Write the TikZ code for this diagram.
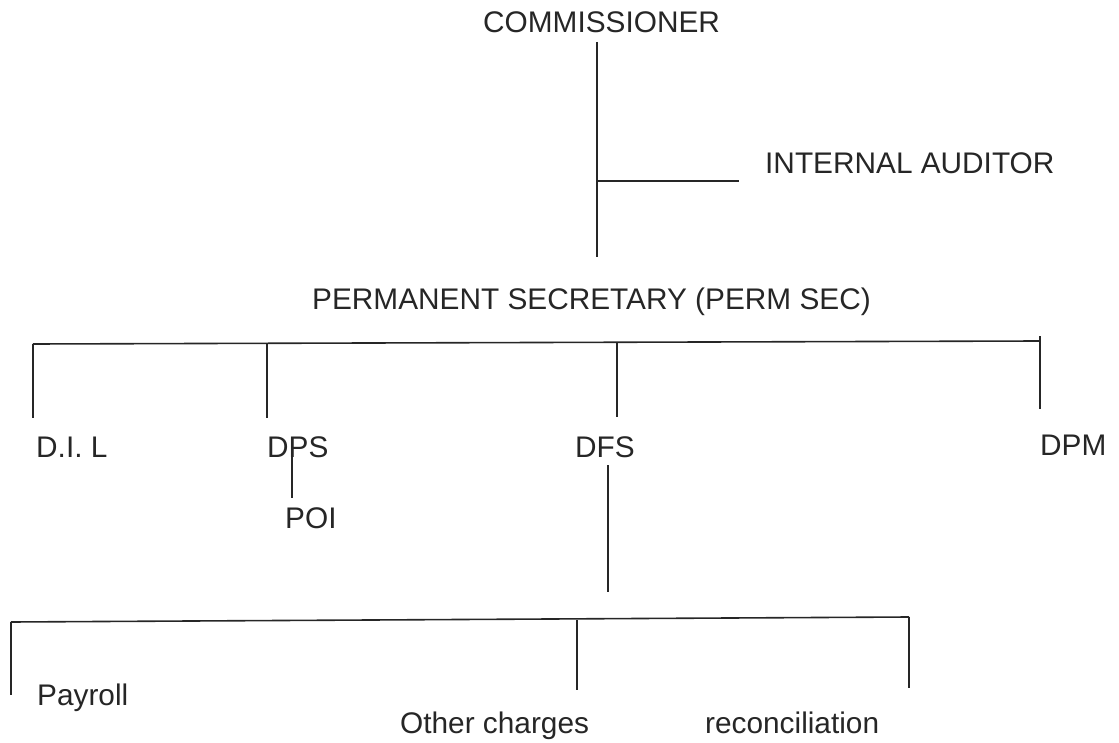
\documentclass[tikz,border=0pt]{standalone}
\usepackage{fontspec}
\setmainfont{Liberation Sans}
\begin{document}
\begin{tikzpicture}[x=1pt,y=-1pt,
  lbl/.style={inner sep=0pt,anchor=base west,font=\fontsize{29.8}{34}\selectfont,text=black!85},
  conn/.style={draw=black!85,line width=1.6pt}]
\useasboundingbox (0,0) rectangle (1119,743);
% texts
\node[lbl] (comm) at (483,33) {COMMISSIONER};
\node[lbl] (ia) at (765,174) {INTERNAL AUDITOR};
\node[lbl] (ps) at (312,309) {PERMANENT SECRETARY (PERM SEC)};
\node[lbl] (dil) at (36,457) {D.I. L};
\node[lbl] (dps) at (267,457) {DPS};
\node[lbl] (poi) at (285,528) {POI};
\node[lbl] (dfs) at (575,457) {DFS};
\node[lbl] (dpm) at (1040,455) {DPM};
\node[lbl] (pay) at (37,705) {Payroll};
\node[lbl] (oth) at (400,733) {Other charges};
\node[lbl] (rec) at (705,733) {reconciliation};
% junction coordinates
\coordinate (c1) at (597,42);
\coordinate (c2) at (597,257);
\coordinate (cj) at (597,181);
\coordinate (cia) at (739,181);
\coordinate (b1) at (33,344);
\coordinate (b2) at (267,343);
\coordinate (b3) at (617,342);
\coordinate (b4) at (1040,341);
\coordinate (b4t) at (1040,336);
\coordinate (d1) at (33,418);
\coordinate (d2) at (267,418);
\coordinate (d3) at (617,417);
\coordinate (d4) at (1040,409);
\coordinate (p1) at (292,457);
\coordinate (p2) at (292,498);
\coordinate (f1) at (608,465);
\coordinate (f2) at (608,592);
\coordinate (g1) at (11,622);
\coordinate (g2) at (577,620);
\coordinate (g3) at (909,617);
\coordinate (h1) at (11,695);
\coordinate (h2) at (577,690);
\coordinate (h3) at (909,688);
% connectors
\draw[conn] (c1) -- (c2);
\draw[conn] (cj) -- (cia);
\draw[conn] (b1) -- (b4);
\draw[conn] (b1) -- (d1);
\draw[conn] (b2) -- (d2);
\draw[conn] (b3) -- (d3);
\draw[conn] (b4t) -- (d4);
\draw[conn] (p1) -- (p2);
\draw[conn] (f1) -- (f2);
\draw[conn] (g1) -- (g3);
\draw[conn] (g1) -- (h1);
\draw[conn] (g2) -- (h2);
\draw[conn] (g3) -- (h3);
\end{tikzpicture}
\end{document}
